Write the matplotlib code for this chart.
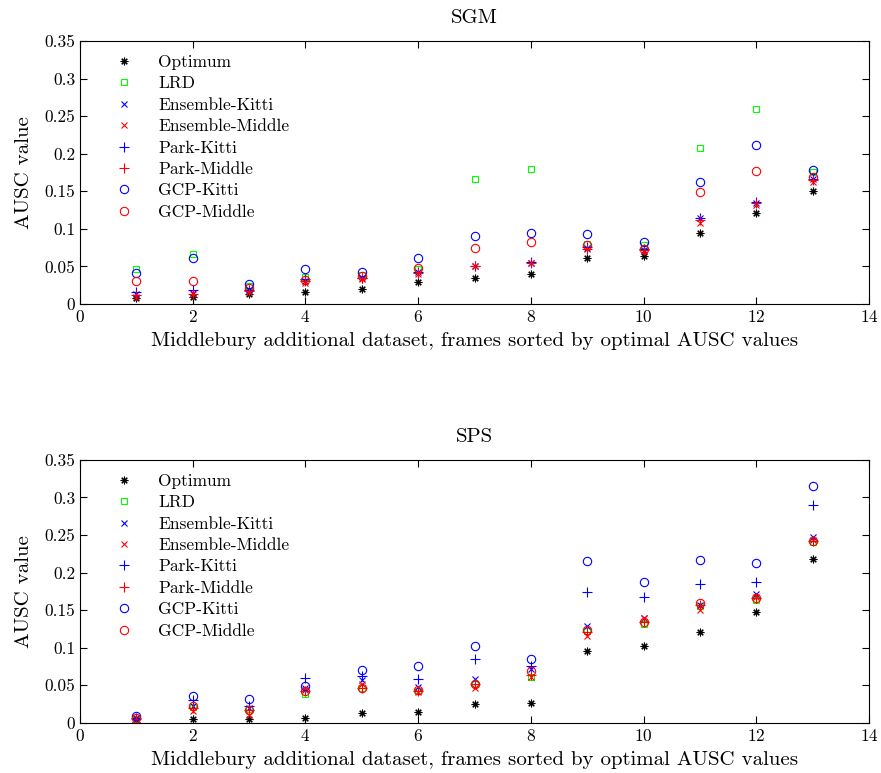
import matplotlib
matplotlib.use('Agg')
import matplotlib.pyplot as plt
from matplotlib.ticker import FuncFormatter

# AUSC per frame, frames 1..13 sorted by optimal AUSC
frames = list(range(1, 14))

# SGM
sgm_optimum = [0.008, 0.010, 0.014, 0.016, 0.020, 0.029, 0.035, 0.040, 0.061, 0.064, 0.095, 0.121, 0.150]
sgm_lrd = [0.046, 0.066, 0.024, 0.036, 0.039, 0.047, 0.166, 0.180, 0.080, 0.078, 0.207, 0.260, 0.176]
sgm_ens_kitti = [0.013, 0.015, 0.018, 0.031, 0.035, 0.042, 0.051, 0.055, 0.075, 0.072, 0.114, 0.135, 0.166]
sgm_ens_middle = [0.010, 0.013, 0.016, 0.028, 0.033, 0.040, 0.050, 0.054, 0.073, 0.071, 0.108, 0.132, 0.163]
sgm_park_kitti = [0.016, 0.018, 0.019, 0.033, 0.035, 0.043, 0.051, 0.056, 0.076, 0.073, 0.115, 0.136, 0.167]
sgm_park_middle = [0.012, 0.014, 0.017, 0.030, 0.034, 0.041, 0.050, 0.054, 0.073, 0.072, 0.112, 0.134, 0.165]
sgm_gcp_kitti = [0.041, 0.061, 0.027, 0.046, 0.042, 0.061, 0.090, 0.095, 0.093, 0.082, 0.162, 0.212, 0.178]
sgm_gcp_middle = [0.030, 0.030, 0.021, 0.032, 0.037, 0.048, 0.074, 0.083, 0.079, 0.073, 0.149, 0.177, 0.169]

# SPS
sps_optimum = [0.001, 0.005, 0.005, 0.007, 0.013, 0.015, 0.025, 0.026, 0.096, 0.102, 0.121, 0.147, 0.218]
sps_lrd = [0.005, 0.021, 0.018, 0.038, 0.047, 0.043, 0.052, 0.061, 0.122, 0.132, 0.155, 0.164, 0.241]
sps_ens_kitti = [0.006, 0.023, 0.020, 0.046, 0.057, 0.048, 0.059, 0.072, 0.129, 0.140, 0.157, 0.171, 0.247]
sps_ens_middle = [0.005, 0.016, 0.010, 0.044, 0.052, 0.041, 0.046, 0.061, 0.115, 0.140, 0.150, 0.167, 0.244]
sps_park_kitti = [0.007, 0.030, 0.022, 0.060, 0.062, 0.058, 0.085, 0.075, 0.174, 0.168, 0.185, 0.187, 0.290]
sps_park_middle = [0.005, 0.020, 0.017, 0.042, 0.047, 0.043, 0.052, 0.064, 0.121, 0.134, 0.157, 0.166, 0.242]
sps_gcp_kitti = [0.009, 0.036, 0.032, 0.049, 0.070, 0.075, 0.102, 0.085, 0.216, 0.188, 0.217, 0.213, 0.315]
sps_gcp_middle = [0.007, 0.022, 0.017, 0.043, 0.047, 0.044, 0.052, 0.069, 0.124, 0.134, 0.159, 0.166, 0.242]

labels = ['Optimum', 'LRD', 'Ensemble-Kitti', 'Ensemble-Middle',
          'Park-Kitti', 'Park-Middle', 'GCP-Kitti', 'GCP-Middle']

plt.rcParams['font.family'] = 'serif'
plt.rcParams['font.serif'] = ['cmr10']
plt.rcParams['mathtext.fontset'] = 'cm'
plt.rcParams['axes.formatter.use_mathtext'] = True
plt.rcParams['font.size'] = 12

# marker, colour, size
styles = [
    ((8, 2, 0), 'black', 5.5),
    ('s', (0, 1, 0), 4.5),
    ('x', 'blue', 4.5),
    ('x', 'red', 4.5),
    ('+', 'blue', 6.5),
    ('+', 'red', 6.5),
    ('o', 'blue', 6),
    ('o', 'red', 6),
]

fig = plt.figure(figsize=(8.81, 7.73), dpi=100)
ax1 = fig.add_axes([0.0908, 0.6067, 0.8956, 0.3402])
ax2 = fig.add_axes([0.0908, 0.0649, 0.8956, 0.3402])

panels = [
    (ax1, 'SGM', [sgm_optimum, sgm_lrd, sgm_ens_kitti, sgm_ens_middle,
                  sgm_park_kitti, sgm_park_middle, sgm_gcp_kitti, sgm_gcp_middle]),
    (ax2, 'SPS', [sps_optimum, sps_lrd, sps_ens_kitti, sps_ens_middle,
                  sps_park_kitti, sps_park_middle, sps_gcp_kitti, sps_gcp_middle]),
]

for ax, title, series in panels:
    for vals, lab, (mk, col, ms) in zip(series, labels, styles):
        ax.plot(frames, vals, linestyle='none', marker=mk, ms=ms,
                mfc='none', mec=col, mew=0.8, label=lab)
    ax.set_xlim(0, 14)
    ax.set_ylim(0, 0.35)
    ax.set_xticks(range(0, 15, 2))
    ax.set_yticks([i * 0.05 for i in range(8)])
    ax.yaxis.set_major_formatter(FuncFormatter(lambda v, p: '%g' % round(v, 2)))
    ax.tick_params(direction='in', top=True, right=True, length=5, width=0.8,
                   labelsize=12.5)
    ax.set_title(title, pad=13, fontsize=15)
    ax.set_xlabel('Middlebury additional dataset, frames sorted by optimal AUSC values',
                  fontsize=15, labelpad=5)
    ax.set_ylabel('AUSC value', fontsize=15, labelpad=8)
    ax.legend(loc='upper left', bbox_to_anchor=(0.045, 0.948), frameon=False,
              numpoints=1, handlelength=1.0, handletextpad=1.45, fontsize=12.5,
              labelspacing=0.35, borderpad=0, borderaxespad=0)

fig.savefig('out.png', dpi=100)
